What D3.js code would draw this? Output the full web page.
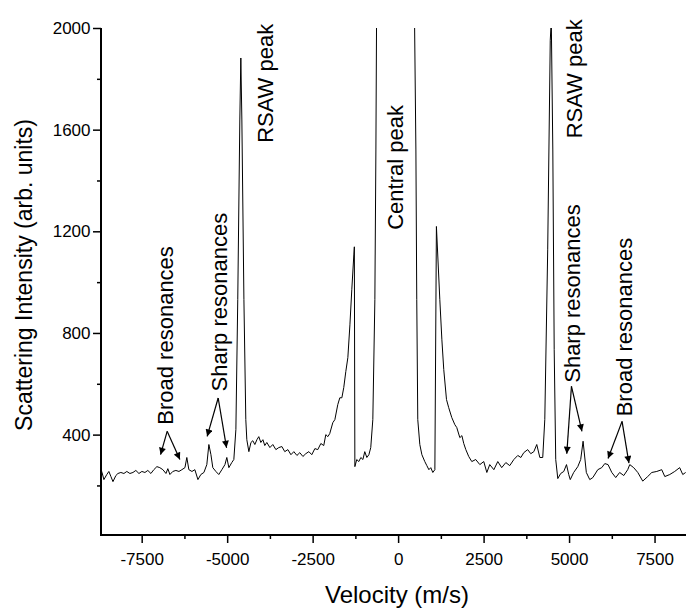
<!DOCTYPE html>
<html>
<head>
<meta charset="utf-8">
<script src="https://cdn.jsdelivr.net/npm/d3@7"></script>
<style>
  html, body { margin: 0; padding: 0; background: #fff; }
  svg { display: block; }
  text { font-family: Arial, "Liberation Sans", sans-serif; fill: #000; }
</style>
</head>
<body>
<svg id="chart" width="686" height="613"></svg>
<script>
// ---- data (velocity in m/s, intensity in arb. units) ----
const velocity = [
  -8690,-8660,-8605,-8520,-8460,-8400,-8340,-8255,-8195,-8110,-8020,-7935,-7845,-7755,-7670,-7580,-7495,-7405,-7320,-7230,
  -7145,-7055,-6970,-6880,-6790,-6735,-6675,-6590,-6500,-6410,-6325,-6235,-6180,-6120,-6030,-5945,-5855,-5770,-5680,-5595,
  -5535,-5475,-5420,-5330,-5245,-5155,-5065,-5010,-4950,-4865,-4805,-4745,-4690,-4630,-4600,-4570,-4510,-4455,-4425,-4365,
  -4305,-4250,-4190,-4130,-4075,-4015,-3955,-3900,-3840,-3750,-3665,-3575,-3490,-3400,-3315,-3225,-3135,-3050,-2960,-2875,
  -2785,-2700,-2610,-2525,-2435,-2350,-2260,-2175,-2115,-2055,-2000,-1910,-1850,-1765,-1705,-1645,-1590,-1530,-1470,-1410,
  -1355,-1295,-1280,-1265,-1210,-1150,-1090,-1030,-975,-915,-855,-800,-740,-680,-650,-620,0,460,520,545,
  575,635,695,780,840,900,955,1015,1075,1120,1220,1280,1335,1415,1480,1570,1660,1715,1805,1865,
  1920,1980,2065,2155,2270,2390,2505,2595,2680,2800,2915,3030,3150,3265,3385,3500,3590,3675,3790,3880,
  3970,4055,4145,4230,4290,4375,4450,4480,4525,4565,4610,4670,4755,4845,4925,4990,5035,5135,5255,5340,
  5410,5505,5605,5695,5840,5955,6045,6140,6250,6365,6480,6600,6715,6775,6890,7010,7155,7300,7420,7565,
  7710,7800,7945,8090,8235,8325,8410
];
const intensity = [
  262,251,223,243,255,235,215,239,247,251,247,255,247,251,259,247,255,251,259,247,
  262,274,270,262,247,266,243,255,259,255,262,270,310,262,255,262,223,243,251,282,
  361,321,270,255,243,262,282,310,270,290,302,420,931,1638,1882,1638,931,459,380,333,
  369,376,361,380,392,369,380,357,369,349,361,341,349,353,333,341,321,333,318,329,
  314,325,333,321,345,341,365,357,400,392,404,447,459,518,545,545,585,648,703,832,
  970,1107,1139,274,302,294,310,302,333,310,321,349,459,931,1520,2300,2600,2300,1520,931,
  459,361,321,294,278,262,270,251,262,1219,931,773,656,538,506,467,439,428,388,396,
  365,341,314,294,302,282,294,251,282,262,294,270,290,278,302,318,310,329,341,325,
  333,361,310,310,459,1127,1952,2030,1520,734,302,227,247,255,282,243,223,251,274,302,
  374,251,223,231,262,270,286,282,251,231,251,239,262,282,270,251,217,235,251,255,
  262,235,243,255,270,243,251
];
const xMajorTicks = [-7500, -5000, -2500, 0, 2500, 5000, 7500];
const xMinorTicks = [-6250, -3750, -1250, 1250, 3750, 6250];
const yMajorTicks = [400, 800, 1200, 1600, 2000];
const yMinorTicks = [200, 600, 1000, 1400, 1800];

// annotation labels (text bottom anchor, rotated), in data units
const labelTexts = ["Broad resonances", "Sharp resonances", "RSAW peak", "Central peak", "RSAW peak", "Sharp resonances", "Broad resonances"];
const labelVel   = [-6588, -5009, -3664, 152, 5371, 5328, 6833];
const labelInt   = [439, 570, 1548, 1206, 1566, 604, 472];
// arrows: start (velocity, intensity) -> tip (velocity, intensity)
const arrowFromVel = [-6755, -6755, -5263, -5263, 5070, 5070, 6550, 6550];
const arrowFromInt = [413, 413, 544, 544, 590, 590, 452, 452];
const arrowToVel   = [-6948, -6383, -5585, -5018, 4933, 5377, 6140, 6751];
const arrowToInt   = [321, 302, 393, 348, 325, 413, 306, 288];

// ---- drawing ----
(function () {
const svg = d3.select("#chart");
const L = 101, R = 686, T = 28, B = 535;

const x = d3.scaleLinear().domain([-8690, 8420]).range([L, R]);
const y = d3.scaleLinear().domain([5, 2000]).range([B, T]);

const defs = svg.append("defs");
defs.append("clipPath").attr("id", "plotclip")
  .append("rect").attr("x", L).attr("y", T).attr("width", R - L).attr("height", B - T);

defs.append("marker")
  .attr("id", "arrowhead")
  .attr("viewBox", "0 0 10 10")
  .attr("refX", 10).attr("refY", 5)
  .attr("markerWidth", 9).attr("markerHeight", 7)
  .attr("markerUnits", "userSpaceOnUse")
  .attr("orient", "auto")
  .append("path").attr("d", "M0,0 L10,5 L0,10 Z").attr("fill", "#000");

const pts = velocity.map((v, i) => [v, intensity[i]]);
const line = d3.line().x(d => x(d[0])).y(d => y(d[1]));

svg.append("path")
  .datum(pts)
  .attr("clip-path", "url(#plotclip)")
  .attr("fill", "none")
  .attr("stroke", "#000")
  .attr("stroke-width", 1)
  .attr("stroke-linejoin", "round")
  .attr("d", line);

// axes
const fmt = d => String(d);
const xAxis = svg.append("g").attr("transform", `translate(0,${B})`)
  .call(d3.axisBottom(x).tickValues(xMajorTicks).tickFormat(fmt).tickSize(8).tickSizeOuter(0).tickPadding(10));
const xMinor = svg.append("g").attr("transform", `translate(0,${B})`)
  .call(d3.axisBottom(x).tickValues(xMinorTicks).tickFormat("").tickSize(4).tickSizeOuter(0));
const yAxis = svg.append("g").attr("transform", `translate(${L},0)`)
  .call(d3.axisLeft(y).tickValues(yMajorTicks).tickFormat(fmt).tickSize(8).tickSizeOuter(0).tickPadding(2.5));
const yMinor = svg.append("g").attr("transform", `translate(${L},0)`)
  .call(d3.axisLeft(y).tickValues(yMinorTicks).tickFormat("").tickSize(4).tickSizeOuter(0));

[xAxis, xMinor, yAxis, yMinor].forEach(g => {
  g.select(".domain").attr("stroke", "#000").attr("stroke-width", 2);
  g.selectAll(".tick line").attr("stroke", "#000").attr("stroke-width", 1.5);
  g.selectAll(".tick text").attr("font-size", 17).attr("font-family", "Arial, 'Liberation Sans', sans-serif").attr("fill", "#000");
});
xMinor.select(".domain").remove();
yMinor.select(".domain").remove();
xAxis.select(".domain").attr("d", `M${L},0H${R}`);
yAxis.select(".domain").attr("d", `M0,${T}V${B + 1}`);

// axis titles
svg.append("text")
  .attr("x", 397).attr("y", 603)
  .attr("text-anchor", "middle")
  .attr("font-size", 24)
  .text("Velocity (m/s)");

svg.append("text")
  .attr("transform", "translate(32,275) rotate(-90)")
  .attr("text-anchor", "middle")
  .attr("font-size", 23)
  .text("Scattering Intensity (arb. units)");

// annotation labels
labelTexts.forEach((t, i) => {
  svg.append("text")
    .attr("transform", `translate(${x(labelVel[i])},${y(labelInt[i])}) rotate(-90)`)
    .attr("text-anchor", "start")
    .attr("font-size", 22)
    .text(t);
});

// arrows
arrowFromVel.forEach((v, i) => {
  svg.append("line")
    .attr("x1", x(v)).attr("y1", y(arrowFromInt[i]))
    .attr("x2", x(arrowToVel[i])).attr("y2", y(arrowToInt[i]))
    .attr("stroke", "#000").attr("stroke-width", 1.2)
    .attr("marker-end", "url(#arrowhead)");
});
})();
</script>
</body>
</html>
